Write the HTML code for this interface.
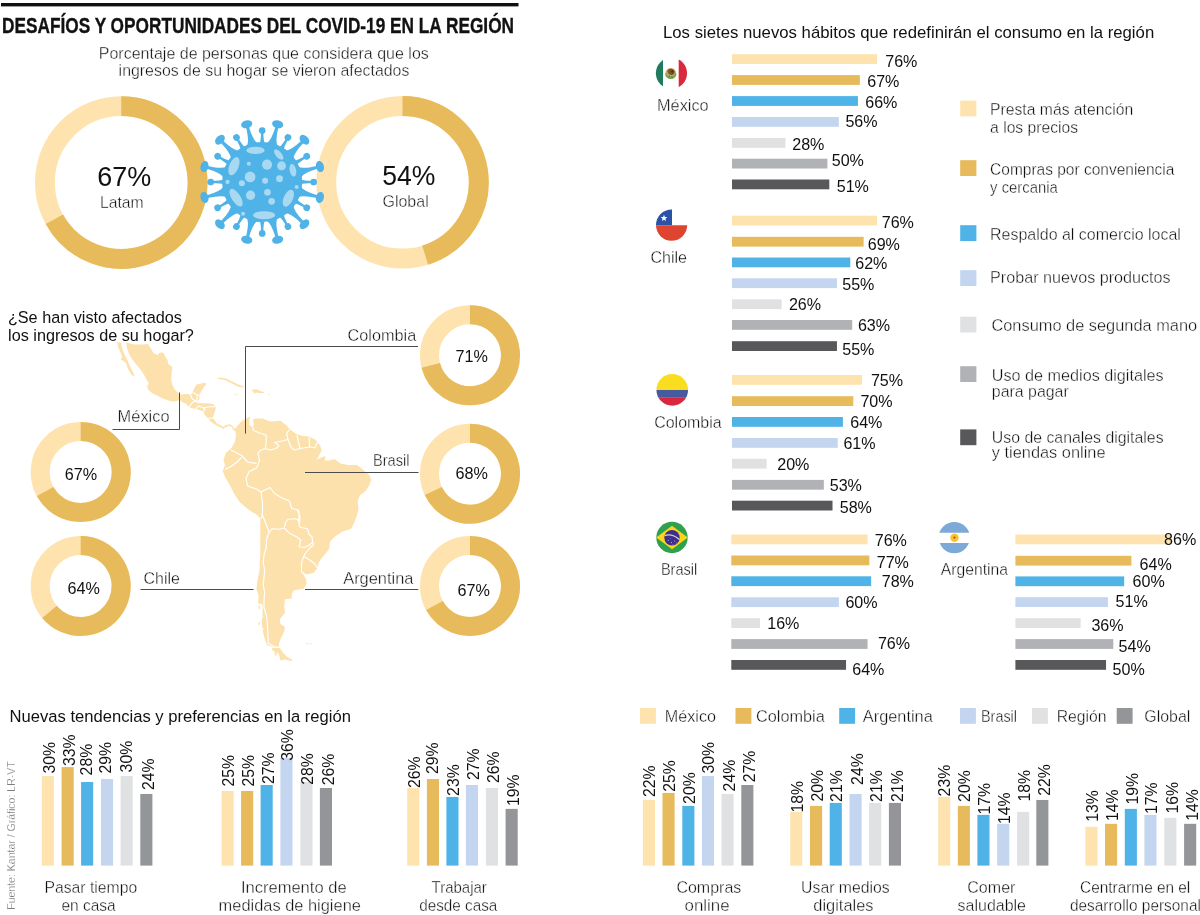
<!DOCTYPE html>
<html lang="es"><head><meta charset="utf-8"><title>Desafíos y oportunidades del COVID-19 en la región</title>
<style>
html,body{margin:0;padding:0;background:#fff}
body{width:1200px;height:915px;overflow:hidden}
svg{display:block}
text{font-family:"Liberation Sans",Arial,Helvetica,sans-serif}
</style></head><body>
<svg width="1200" height="915" viewBox="0 0 1200 915">
<rect width="1200" height="915" fill="#fff"/>
<rect x="1.00" y="3.00" width="517.50" height="3.40" fill="#111"/>
<text x="2.0" y="32.6" font-size="21.6" fill="#111" textLength="512.0" lengthAdjust="spacingAndGlyphs" font-weight="bold" stroke="#111" stroke-width="0.35">DESAFÍOS Y OPORTUNIDADES DEL COVID-19 EN LA REGIÓN</text>
<text x="98.8" y="58.9" font-size="16.8" fill="#0d0d0d" textLength="330.0" lengthAdjust="spacingAndGlyphs" stroke="#fff" stroke-width="0.38">Porcentaje de personas que considera que los</text>
<text x="118.6" y="76.3" font-size="16.8" fill="#0d0d0d" textLength="290.8" lengthAdjust="spacingAndGlyphs" stroke="#fff" stroke-width="0.38">ingresos de su hogar se vieron afectados</text>
<circle cx="121.25" cy="182.5" r="76.325" fill="none" stroke="#FEE3AF" stroke-width="19.849999999999994"/>
<path d="M121.25 106.175A76.325 76.325 0 1 1 54.37 219.27" fill="none" stroke="#E7BA5B" stroke-width="19.849999999999994"/>
<circle cx="402.5" cy="182.3" r="76.275" fill="none" stroke="#FEE3AF" stroke-width="19.950000000000003"/>
<path d="M402.5 106.025A76.275 76.275 0 0 1 425.16 255.13" fill="none" stroke="#E7BA5B" stroke-width="19.950000000000003"/>
<text x="97.3" y="186.3" font-size="27.2" fill="#111" textLength="54.0" lengthAdjust="spacingAndGlyphs">67%</text>
<text x="100.0" y="208.0" font-size="16.4" fill="#0d0d0d" textLength="43.7" lengthAdjust="spacingAndGlyphs" stroke="#fff" stroke-width="0.38">Latam</text>
<text x="382.3" y="185.2" font-size="27.2" fill="#111" textLength="53.2" lengthAdjust="spacingAndGlyphs">54%</text>
<text x="382.5" y="206.6" font-size="16.4" fill="#0d0d0d" textLength="46.2" lengthAdjust="spacingAndGlyphs" stroke="#fff" stroke-width="0.38">Global</text>
<g transform="translate(262.2,182.0) scale(1.013)">
<g fill="#4FB3E7" stroke="none">
<circle r="39.6"/>
<g transform="rotate(15)"><path d="M-5.6 -38Q-1.9 -41.5 -1.45 -56L1.45 -56Q1.9 -41.5 5.6 -38Z"/><ellipse cx="0" cy="-59" rx="5.6" ry="3.9"/></g>
<g transform="rotate(45)"><path d="M-5.6 -38Q-1.9 -41.5 -1.45 -56L1.45 -56Q1.9 -41.5 5.6 -38Z"/><ellipse cx="0" cy="-59" rx="5.6" ry="3.9"/></g>
<g transform="rotate(75)"><path d="M-5.6 -38Q-1.9 -41.5 -1.45 -56L1.45 -56Q1.9 -41.5 5.6 -38Z"/><ellipse cx="0" cy="-59" rx="5.6" ry="3.9"/></g>
<g transform="rotate(105)"><path d="M-5.6 -38Q-1.9 -41.5 -1.45 -56L1.45 -56Q1.9 -41.5 5.6 -38Z"/><ellipse cx="0" cy="-59" rx="5.6" ry="3.9"/></g>
<g transform="rotate(135)"><path d="M-5.6 -38Q-1.9 -41.5 -1.45 -56L1.45 -56Q1.9 -41.5 5.6 -38Z"/><ellipse cx="0" cy="-59" rx="5.6" ry="3.9"/></g>
<g transform="rotate(165)"><path d="M-5.6 -38Q-1.9 -41.5 -1.45 -56L1.45 -56Q1.9 -41.5 5.6 -38Z"/><ellipse cx="0" cy="-59" rx="5.6" ry="3.9"/></g>
<g transform="rotate(195)"><path d="M-5.6 -38Q-1.9 -41.5 -1.45 -56L1.45 -56Q1.9 -41.5 5.6 -38Z"/><ellipse cx="0" cy="-59" rx="5.6" ry="3.9"/></g>
<g transform="rotate(225)"><path d="M-5.6 -38Q-1.9 -41.5 -1.45 -56L1.45 -56Q1.9 -41.5 5.6 -38Z"/><ellipse cx="0" cy="-59" rx="5.6" ry="3.9"/></g>
<g transform="rotate(255)"><path d="M-5.6 -38Q-1.9 -41.5 -1.45 -56L1.45 -56Q1.9 -41.5 5.6 -38Z"/><ellipse cx="0" cy="-59" rx="5.6" ry="3.9"/></g>
<g transform="rotate(285)"><path d="M-5.6 -38Q-1.9 -41.5 -1.45 -56L1.45 -56Q1.9 -41.5 5.6 -38Z"/><ellipse cx="0" cy="-59" rx="5.6" ry="3.9"/></g>
<g transform="rotate(315)"><path d="M-5.6 -38Q-1.9 -41.5 -1.45 -56L1.45 -56Q1.9 -41.5 5.6 -38Z"/><ellipse cx="0" cy="-59" rx="5.6" ry="3.9"/></g>
<g transform="rotate(345)"><path d="M-5.6 -38Q-1.9 -41.5 -1.45 -56L1.45 -56Q1.9 -41.5 5.6 -38Z"/><ellipse cx="0" cy="-59" rx="5.6" ry="3.9"/></g>
<g transform="rotate(0)"><path d="M-2.6 -38Q-1.1 -41 -1.1 -50L1.1 -50Q1.1 -41 2.6 -38Z"/><circle cx="0" cy="-50.8" r="3.3"/></g>
<g transform="rotate(30)"><path d="M-2.6 -38Q-1.1 -41 -1.1 -50L1.1 -50Q1.1 -41 2.6 -38Z"/><circle cx="0" cy="-50.8" r="3.3"/></g>
<g transform="rotate(60)"><path d="M-2.6 -38Q-1.1 -41 -1.1 -50L1.1 -50Q1.1 -41 2.6 -38Z"/><circle cx="0" cy="-50.8" r="3.3"/></g>
<g transform="rotate(90)"><path d="M-2.6 -38Q-1.1 -41 -1.1 -50L1.1 -50Q1.1 -41 2.6 -38Z"/><circle cx="0" cy="-50.8" r="3.3"/></g>
<g transform="rotate(120)"><path d="M-2.6 -38Q-1.1 -41 -1.1 -50L1.1 -50Q1.1 -41 2.6 -38Z"/><circle cx="0" cy="-50.8" r="3.3"/></g>
<g transform="rotate(150)"><path d="M-2.6 -38Q-1.1 -41 -1.1 -50L1.1 -50Q1.1 -41 2.6 -38Z"/><circle cx="0" cy="-50.8" r="3.3"/></g>
<g transform="rotate(180)"><path d="M-2.6 -38Q-1.1 -41 -1.1 -50L1.1 -50Q1.1 -41 2.6 -38Z"/><circle cx="0" cy="-50.8" r="3.3"/></g>
<g transform="rotate(210)"><path d="M-2.6 -38Q-1.1 -41 -1.1 -50L1.1 -50Q1.1 -41 2.6 -38Z"/><circle cx="0" cy="-50.8" r="3.3"/></g>
<g transform="rotate(240)"><path d="M-2.6 -38Q-1.1 -41 -1.1 -50L1.1 -50Q1.1 -41 2.6 -38Z"/><circle cx="0" cy="-50.8" r="3.3"/></g>
<g transform="rotate(270)"><path d="M-2.6 -38Q-1.1 -41 -1.1 -50L1.1 -50Q1.1 -41 2.6 -38Z"/><circle cx="0" cy="-50.8" r="3.3"/></g>
<g transform="rotate(300)"><path d="M-2.6 -38Q-1.1 -41 -1.1 -50L1.1 -50Q1.1 -41 2.6 -38Z"/><circle cx="0" cy="-50.8" r="3.3"/></g>
<g transform="rotate(330)"><path d="M-2.6 -38Q-1.1 -41 -1.1 -50L1.1 -50Q1.1 -41 2.6 -38Z"/><circle cx="0" cy="-50.8" r="3.3"/></g>
</g>
<g fill="#A9D8F3">
<ellipse cx="-6.6" cy="-31.2" rx="9" ry="3.6" transform="rotate(0 -6.6 -31.2)"/>
<ellipse cx="16.3" cy="-27.1" rx="6.3" ry="2.9" transform="rotate(50 16.3 -27.1)"/>
<ellipse cx="-27.9" cy="-15.6" rx="4.6" ry="9.5" transform="rotate(22 -27.9 -15.6)"/>
<ellipse cx="30.3" cy="-11.5" rx="3.2" ry="6.3" transform="rotate(-12 30.3 -11.5)"/>
<ellipse cx="4.8" cy="-17.2" rx="5" ry="5" transform="rotate(0 4.8 -17.2)"/>
<ellipse cx="19.1" cy="-16.0" rx="4.4" ry="4.4" transform="rotate(0 19.1 -16.0)"/>
<ellipse cx="-13.2" cy="-18.0" rx="2" ry="2" transform="rotate(0 -13.2 -18.0)"/>
<ellipse cx="-11.9" cy="-5.0" rx="5.3" ry="5.3" transform="rotate(0 -11.9 -5.0)"/>
<ellipse cx="-20.1" cy="1.3" rx="3" ry="3" transform="rotate(0 -20.1 1.3)"/>
<ellipse cx="-34.2" cy="0.0" rx="2.1" ry="2.1" transform="rotate(0 -34.2 0.0)"/>
<ellipse cx="2.9" cy="-1.3" rx="3" ry="3" transform="rotate(0 2.9 -1.3)"/>
<ellipse cx="17.1" cy="-3.3" rx="3.4" ry="3.4" transform="rotate(0 17.1 -3.3)"/>
<ellipse cx="34.0" cy="4.9" rx="2" ry="2" transform="rotate(0 34.0 4.9)"/>
<ellipse cx="-11.5" cy="13.1" rx="4.6" ry="4.6" transform="rotate(0 -11.5 13.1)"/>
<ellipse cx="5.2" cy="10.1" rx="3.3" ry="3.3" transform="rotate(0 5.2 10.1)"/>
<ellipse cx="9.3" cy="19.1" rx="3.3" ry="3.3" transform="rotate(0 9.3 19.1)"/>
<ellipse cx="-25.8" cy="15.5" rx="4.3" ry="10" transform="rotate(-33 -25.8 15.5)"/>
<ellipse cx="25.8" cy="16.0" rx="4.5" ry="9" transform="rotate(25 25.8 16.0)"/>
<ellipse cx="1.9" cy="32.8" rx="11" ry="4" transform="rotate(0 1.9 32.8)"/>
<ellipse cx="-18.9" cy="31.4" rx="2" ry="2" transform="rotate(0 -18.9 31.4)"/>
</g></g>
<text x="7.9" y="322.6" font-size="16.8" fill="#111" textLength="174.0" lengthAdjust="spacingAndGlyphs">¿Se han visto afectados</text>
<text x="8.1" y="340.6" font-size="16.8" fill="#111" textLength="185.8" lengthAdjust="spacingAndGlyphs">los ingresos de su hogar?</text>
<g fill="#FDE1AC" stroke="none">
<path d="M117.1 342.1 121.2 342.7 121.9 347.5 123.3 351.7 125.5 356.5 127.7 360.7 129.7 365.7 131.7 369.8 134.0 374.2 134.0 376.0 131.7 375.2 129.6 371.8 127.5 368.3 126.5 364.2 123.8 361.0 120.7 359.7 122.2 356.8 120.2 351.7 118.2 347.5Z"/>
<path d="M126.2 342.5 134.2 344.6 143.3 344.6 147.5 343.8 150.8 348.3 153.3 352.9 157.5 355.0 160.0 352.5 163.3 352.5 165.4 357.1 167.5 360.0 168.3 364.2 172.5 367.1 171.7 372.5 171.2 379.2 172.1 384.2 174.6 389.2 178.3 392.9 180.8 394.6 182.5 394.6 186.7 393.8 190.8 395.0 192.5 392.5 195.0 386.7 196.7 384.6 203.3 382.9 206.7 383.3 204.2 386.7 202.1 390.0 200.8 392.5 199.2 395.0 199.6 399.2 198.3 400.0 198.3 402.9 203.3 403.3 209.2 403.3 213.3 404.2 215.8 406.7 215.4 410.0 214.2 413.3 213.3 416.7 212.5 417.9 215.0 420.8 216.7 423.3 220.0 425.0 223.3 426.7 225.8 425.0 230.0 424.2 232.5 425.8 234.2 428.8 236.7 427.5 235.8 431.2 233.3 430.2 231.7 426.8 228.3 426.0 225.2 427.7 224.2 429.8 221.7 428.1 217.5 426.0 213.3 423.5 210.0 421.0 208.3 418.5 205.0 415.2 203.3 411.8 200.0 410.2 195.8 408.9 191.7 408.1 188.8 406.8 186.7 404.3 182.5 402.2 179.6 399.8 177.5 400.8 173.3 401.7 168.3 400.4 163.3 398.8 157.5 395.8 152.5 393.3 148.3 390.0 147.1 386.7 148.8 383.3 146.7 380.0 144.2 375.0 140.8 370.0 137.3 365.8 134.7 362.5 131.0 357.5 128.4 352.5 126.8 347.5Z"/>
<path d="M216.2 378.3 221.7 377.5 226.7 378.8 231.7 381.2 236.7 383.8 240.8 385.4 243.8 386.2 243.3 387.5 239.2 387.1 235.0 385.0 230.0 382.5 225.0 380.0 220.0 379.2Z"/>
<path d="M234.2 394.0 237.9 394.2 237.5 394.8 234.6 394.8Z"/>
<path d="M252.1 389.6 256.7 389.2 260.8 391.2 264.2 392.1 263.8 392.9 259.2 392.9 255.8 392.5 254.6 394.2 253.3 391.7 252.1 390.8Z"/>
<path d="M267.9 394.2 270.0 394.2 270.0 394.8 267.9 394.8Z"/>
<path d="M272.2 648.0 279.7 648.0 282.9 652.5 287.2 657.0 292.8 660.0 291.0 661.0 285.0 659.5 280.5 660.6 279.3 655.8 277.5 651.7 276.0 655.8 274.8 655.8 274.5 651.0 272.2 650.4Z"/>
<path d="M234.7 429.7 237.7 425.2 242.2 420.7 246.7 418.2 250.5 416.4 249.3 420.0 249.7 425.2 252.7 427.5 253.8 423.7 252.7 420.0 255.0 418.5 262.5 418.5 270.0 421.5 280.5 420.7 286.5 425.2 289.5 429.0 295.5 433.5 301.5 435.7 309.0 436.5 315.0 439.5 320.2 445.5 321.7 450.7 318.7 456.0 316.5 459.7 321.0 457.5 325.5 456.0 324.7 460.5 328.5 460.5 334.5 459.0 340.5 463.5 348.0 465.0 357.0 465.0 363.0 469.5 369.7 475.5 371.2 480.0 369.0 486.0 364.5 492.0 360.0 495.0 357.7 501.0 358.5 510.0 356.2 517.5 356.2 517.5 353.2 525.0 351.0 528.7 342.0 531.7 334.5 537.0 330.0 541.5 329.2 549.0 325.5 553.5 321.7 558.0 318.7 562.5 317.2 568.5 313.5 573.0 306.0 574.5 302.2 572.2 306.0 579.0 306.7 583.5 303.7 588.7 294.0 590.2 291.7 594.0 291.7 598.5 285.0 599.2 284.2 606.0 285.0 613.5 284.2 613.5 279.7 619.5 280.5 624.0 285.0 627.0 284.2 631.5 281.2 637.5 279.0 643.5 279.0 646.5 271.5 646.5 267.0 645.0 264.7 639.0 262.5 630.0 261.7 622.5 262.5 615.0 262.5 604.5 258.0 603.0 258.7 595.5 256.5 589.5 257.2 582.0 259.5 570.0 260.2 555.0 260.2 540.0 260.2 525.0 260.2 516.0 261.0 510.0 261.0 519.0 256.5 514.5 249.0 510.0 240.0 502.5 234.0 493.5 229.5 484.5 225.0 477.0 222.7 471.0 225.0 465.0 223.5 460.5 225.7 453.0 231.0 448.5 234.7 442.5 236.2 435.0Z"/>
<path d="M258.3 606.0 259.8 605.4 260.1 609.0 258.9 609.6Z"/>
<path d="M258.3 622.5 259.8 622.2 260.1 624.7 258.6 624.9Z"/>
<path d="M266.7 642.7 269.4 642.7 269.4 645.0 267.0 645.0Z"/>
<g opacity=".55"><path d="M306.0 642.9 308.2 642.6 308.4 644.4 306.3 644.5Z"/><path d="M309.3 642.9 311.7 642.7 311.7 644.4 309.6 644.5Z"/></g>
</g>
<g fill="none" stroke="#fff" stroke-width="0.9" stroke-linecap="round">
<path d="M261.9 616.2 263.1 616.8"/>
<path d="M262.0 629.4 263.4 628.8"/>
</g>
<g fill="none" stroke="#fff" stroke-width="1.15" stroke-linejoin="round">
<path d="M252.7 427.5 253.5 430.5 261.0 433.5 266.2 435.0 266.2 441.0 265.5 448.5 261.0 450.0 258.0 453.0 259.5 460.5 258.0 465.0 256.5 468.0 249.0 471.7 246.0 478.5 247.5 486.0 256.5 489.0 261.0 492.0 262.5 502.5 262.5 514.5 261.0 519.0"/>
<path d="M231.0 450.0 237.0 453.0 242.2 456.0 247.5 462.0 256.5 463.5"/>
<path d="M225.0 469.5 231.0 466.5 237.0 462.0 241.5 457.5"/>
<path d="M261.0 492.0 270.0 487.5 274.5 493.5 282.0 498.0 289.5 501.0 291.7 508.5 298.5 510.0 300.0 517.5 299.2 525.7"/>
<path d="M265.5 448.5 270.0 450.0 276.0 448.5 279.0 445.5 274.5 442.5 282.0 441.0 288.0 439.5 286.5 433.5 289.5 429.7"/>
<path d="M288.0 439.5 291.0 447.0 294.0 450.0 300.0 448.5 309.7 447.0 315.0 447.7 317.2 442.5"/>
<path d="M297.0 435.0 298.5 442.5 300.0 448.5"/>
<path d="M309.0 437.2 309.7 447.0"/>
<path d="M261.7 513.0 264.0 519.0 267.0 526.5 269.2 532.5 266.7 538.5 266.2 547.5 264.0 555.0 263.2 562.5 264.7 570.0 264.0 577.5 263.2 585.0 264.7 592.5 264.0 600.0 264.0 607.5 266.2 615.0"/>
<path d="M266.4 615.0 267.4 624.0 267.9 633.0 268.3 643.5 276.0 647.2"/>
<path d="M269.2 532.5 272.2 528.7 279.0 529.2 284.2 528.0 285.7 522.0 288.0 519.3 295.5 518.7 298.5 520.5 299.2 514.5 297.0 510.0"/>
<path d="M298.5 520.5 300.0 527.2 307.5 528.7 309.0 534.0 312.0 537.0 312.7 542.2 313.5 544.5 309.0 549.0 305.2 553.5 303.7 556.5 309.0 559.5 315.0 564.0 317.2 567.7"/>
<path d="M284.2 528.0 289.5 533.2 297.0 537.0 300.7 540.0 299.2 546.7 304.5 547.5 309.0 545.2 312.7 542.2"/>
<path d="M303.7 556.5 301.5 562.5 301.5 571.5 304.5 574.5"/>
<path d="M190.8 395.0 191.8 398.3 195.0 401.0 198.3 400.0"/>
<path d="M188.8 406.8 191.8 403.3 195.0 401.0"/>
<path d="M195.0 401.0 198.3 402.9"/>
<path d="M195.8 408.9 198.8 405.8 203.3 407.9 209.2 406.7 215.8 406.7"/>
<path d="M203.3 411.8 205.0 409.2 203.3 407.9"/>
<path d="M208.3 418.5 212.5 417.9"/>
<path d="M224.2 429.8 224.6 427.5"/>
<path d="M192.5 392.5 197.5 395.0 199.2 395.0"/>
<path d="M197.5 395.0 196.7 399.6"/>
</g>
<g fill="none" stroke="#4a4a4a" stroke-width="1">
<path d="M112.5 429.5H179.5V392.5"/>
<path d="M245.5 433.5V346.5H418"/>
<path d="M305 472.5H418.5"/>
<path d="M140.5 589.5H253.5"/>
<path d="M305 589.5H418.3"/>
</g>
<text x="117.6" y="422.1" font-size="17.1" fill="#0d0d0d" textLength="52.0" lengthAdjust="spacingAndGlyphs" stroke="#fff" stroke-width="0.38">México</text>
<text x="347.6" y="340.6" font-size="17.1" fill="#0d0d0d" textLength="68.6" lengthAdjust="spacingAndGlyphs" stroke="#fff" stroke-width="0.38">Colombia</text>
<text x="373.0" y="466.2" font-size="17.1" fill="#0d0d0d" textLength="36.4" lengthAdjust="spacingAndGlyphs" stroke="#fff" stroke-width="0.38">Brasil</text>
<text x="143.5" y="584.3" font-size="17.1" fill="#0d0d0d" textLength="36.4" lengthAdjust="spacingAndGlyphs" stroke="#fff" stroke-width="0.38">Chile</text>
<text x="343.2" y="584.0" font-size="17.1" fill="#0d0d0d" textLength="70.3" lengthAdjust="spacingAndGlyphs" stroke="#fff" stroke-width="0.38">Argentina</text>
<circle cx="80.7" cy="472" r="40.5" fill="none" stroke="#FEE3AF" stroke-width="19"/>
<path d="M80.7 431.5A40.5 40.5 0 1 1 45.21 491.51" fill="none" stroke="#E7BA5B" stroke-width="19"/>
<text x="64.8" y="480.3" font-size="16.8" fill="#111" textLength="32.4" lengthAdjust="spacingAndGlyphs">67%</text>
<circle cx="80.7" cy="586" r="40.5" fill="none" stroke="#FEE3AF" stroke-width="19"/>
<path d="M80.7 545.5A40.5 40.5 0 1 1 49.49 611.82" fill="none" stroke="#E7BA5B" stroke-width="19"/>
<text x="67.5" y="593.7" font-size="16.8" fill="#111" textLength="32.4" lengthAdjust="spacingAndGlyphs">64%</text>
<circle cx="470" cy="355.3" r="40.5" fill="none" stroke="#FEE3AF" stroke-width="19"/>
<path d="M470 314.8A40.5 40.5 0 1 1 430.77 365.37" fill="none" stroke="#E7BA5B" stroke-width="19"/>
<text x="455.5" y="361.7" font-size="16.8" fill="#111" textLength="32.4" lengthAdjust="spacingAndGlyphs">71%</text>
<circle cx="470" cy="473.7" r="40.5" fill="none" stroke="#FEE3AF" stroke-width="19"/>
<path d="M470 433.2A40.5 40.5 0 1 1 433.35 490.94" fill="none" stroke="#E7BA5B" stroke-width="19"/>
<text x="455.5" y="479.2" font-size="16.8" fill="#111" textLength="32.4" lengthAdjust="spacingAndGlyphs">68%</text>
<circle cx="470" cy="586" r="40.5" fill="none" stroke="#FEE3AF" stroke-width="19"/>
<path d="M470 545.5A40.5 40.5 0 1 1 434.51 605.51" fill="none" stroke="#E7BA5B" stroke-width="19"/>
<text x="457.5" y="595.8" font-size="16.8" fill="#111" textLength="32.4" lengthAdjust="spacingAndGlyphs">67%</text>
<text x="663.0" y="38.2" font-size="16.2" fill="#111" textLength="491.2" lengthAdjust="spacingAndGlyphs">Los sietes nuevos hábitos que redefinirán el consumo en la región</text>
<rect x="732.00" y="54.20" width="145.01" height="9.80" fill="#FEE3AF"/>
<rect x="732.00" y="75.10" width="127.84" height="9.80" fill="#E7BA5B"/>
<rect x="732.00" y="96.10" width="125.93" height="9.80" fill="#4FB3E7"/>
<rect x="732.00" y="117.00" width="106.85" height="9.80" fill="#C4D5EF"/>
<rect x="732.00" y="138.00" width="53.42" height="9.80" fill="#E0E1E2"/>
<rect x="732.00" y="158.70" width="95.40" height="9.80" fill="#B1B2B5"/>
<rect x="732.00" y="179.50" width="97.31" height="9.80" fill="#58585B"/>
<text x="885.2" y="67.0" font-size="17" fill="#111" textLength="32.2" lengthAdjust="spacingAndGlyphs">76%</text>
<text x="867.2" y="86.6" font-size="17" fill="#111" textLength="32.2" lengthAdjust="spacingAndGlyphs">67%</text>
<text x="865.2" y="107.8" font-size="17" fill="#111" textLength="32.2" lengthAdjust="spacingAndGlyphs">66%</text>
<text x="845.4" y="127.0" font-size="17" fill="#111" textLength="32.2" lengthAdjust="spacingAndGlyphs">56%</text>
<text x="792.2" y="150.0" font-size="17" fill="#111" textLength="32.2" lengthAdjust="spacingAndGlyphs">28%</text>
<text x="831.7" y="166.3" font-size="17" fill="#111" textLength="32.2" lengthAdjust="spacingAndGlyphs">50%</text>
<text x="836.7" y="191.5" font-size="17" fill="#111" textLength="32.2" lengthAdjust="spacingAndGlyphs">51%</text>
<rect x="732.00" y="215.70" width="145.01" height="9.80" fill="#FEE3AF"/>
<rect x="732.00" y="236.80" width="131.65" height="9.80" fill="#E7BA5B"/>
<rect x="732.00" y="257.50" width="118.30" height="9.80" fill="#4FB3E7"/>
<rect x="732.00" y="278.30" width="104.94" height="9.80" fill="#C4D5EF"/>
<rect x="732.00" y="299.30" width="49.61" height="9.80" fill="#E0E1E2"/>
<rect x="732.00" y="320.00" width="120.20" height="9.80" fill="#B1B2B5"/>
<rect x="732.00" y="341.20" width="104.94" height="9.80" fill="#58585B"/>
<text x="881.7" y="227.5" font-size="17" fill="#111" textLength="32.2" lengthAdjust="spacingAndGlyphs">76%</text>
<text x="867.7" y="250.3" font-size="17" fill="#111" textLength="32.2" lengthAdjust="spacingAndGlyphs">69%</text>
<text x="855.2" y="269.0" font-size="17" fill="#111" textLength="32.2" lengthAdjust="spacingAndGlyphs">62%</text>
<text x="842.2" y="290.0" font-size="17" fill="#111" textLength="32.2" lengthAdjust="spacingAndGlyphs">55%</text>
<text x="788.9" y="309.5" font-size="17" fill="#111" textLength="32.2" lengthAdjust="spacingAndGlyphs">26%</text>
<text x="857.9" y="330.8" font-size="17" fill="#111" textLength="32.2" lengthAdjust="spacingAndGlyphs">63%</text>
<text x="842.2" y="354.5" font-size="17" fill="#111" textLength="32.2" lengthAdjust="spacingAndGlyphs">55%</text>
<rect x="732.00" y="375.00" width="129.97" height="9.80" fill="#FEE3AF"/>
<rect x="732.00" y="396.20" width="121.31" height="9.80" fill="#E7BA5B"/>
<rect x="732.00" y="417.00" width="110.91" height="9.80" fill="#4FB3E7"/>
<rect x="732.00" y="438.00" width="105.71" height="9.80" fill="#C4D5EF"/>
<rect x="732.00" y="458.80" width="34.66" height="9.80" fill="#E0E1E2"/>
<rect x="732.00" y="479.90" width="91.85" height="9.80" fill="#B1B2B5"/>
<rect x="732.00" y="500.70" width="100.51" height="9.80" fill="#58585B"/>
<text x="870.9" y="385.8" font-size="17" fill="#111" textLength="32.2" lengthAdjust="spacingAndGlyphs">75%</text>
<text x="860.4" y="406.5" font-size="17" fill="#111" textLength="32.2" lengthAdjust="spacingAndGlyphs">70%</text>
<text x="850.2" y="428.3" font-size="17" fill="#111" textLength="32.2" lengthAdjust="spacingAndGlyphs">64%</text>
<text x="843.4" y="449.0" font-size="17" fill="#111" textLength="32.2" lengthAdjust="spacingAndGlyphs">61%</text>
<text x="777.2" y="469.5" font-size="17" fill="#111" textLength="32.2" lengthAdjust="spacingAndGlyphs">20%</text>
<text x="829.7" y="490.8" font-size="17" fill="#111" textLength="32.2" lengthAdjust="spacingAndGlyphs">53%</text>
<text x="839.7" y="512.5" font-size="17" fill="#111" textLength="32.2" lengthAdjust="spacingAndGlyphs">58%</text>
<rect x="731.30" y="534.50" width="136.27" height="9.80" fill="#FEE3AF"/>
<rect x="731.30" y="555.50" width="138.06" height="9.80" fill="#E7BA5B"/>
<rect x="731.30" y="576.30" width="139.85" height="9.80" fill="#4FB3E7"/>
<rect x="731.30" y="597.30" width="107.58" height="9.80" fill="#C4D5EF"/>
<rect x="731.30" y="618.20" width="28.69" height="9.80" fill="#E0E1E2"/>
<rect x="731.30" y="639.10" width="136.27" height="9.80" fill="#B1B2B5"/>
<rect x="731.30" y="660.00" width="114.75" height="9.80" fill="#58585B"/>
<text x="874.7" y="545.8" font-size="17" fill="#111" textLength="32.2" lengthAdjust="spacingAndGlyphs">76%</text>
<text x="876.7" y="568.3" font-size="17" fill="#111" textLength="32.2" lengthAdjust="spacingAndGlyphs">77%</text>
<text x="881.7" y="586.5" font-size="17" fill="#111" textLength="32.2" lengthAdjust="spacingAndGlyphs">78%</text>
<text x="845.4" y="607.8" font-size="17" fill="#111" textLength="32.2" lengthAdjust="spacingAndGlyphs">60%</text>
<text x="767.2" y="628.8" font-size="17" fill="#111" textLength="32.2" lengthAdjust="spacingAndGlyphs">16%</text>
<text x="877.9" y="648.8" font-size="17" fill="#111" textLength="32.2" lengthAdjust="spacingAndGlyphs">76%</text>
<text x="852.2" y="674.5" font-size="17" fill="#111" textLength="32.2" lengthAdjust="spacingAndGlyphs">64%</text>
<rect x="1015.40" y="534.50" width="155.92" height="9.80" fill="#FEE3AF"/>
<rect x="1015.40" y="555.80" width="116.03" height="9.80" fill="#E7BA5B"/>
<rect x="1015.40" y="576.40" width="108.78" height="9.80" fill="#4FB3E7"/>
<rect x="1015.40" y="597.20" width="92.46" height="9.80" fill="#C4D5EF"/>
<rect x="1015.40" y="618.20" width="65.27" height="9.80" fill="#E0E1E2"/>
<rect x="1015.40" y="639.10" width="97.90" height="9.80" fill="#B1B2B5"/>
<rect x="1015.40" y="660.00" width="90.65" height="9.80" fill="#58585B"/>
<text x="1164.0" y="544.8" font-size="17" fill="#111" textLength="32.2" lengthAdjust="spacingAndGlyphs">86%</text>
<text x="1139.5" y="570.3" font-size="17" fill="#111" textLength="32.2" lengthAdjust="spacingAndGlyphs">64%</text>
<text x="1132.5" y="587.2" font-size="17" fill="#111" textLength="32.2" lengthAdjust="spacingAndGlyphs">60%</text>
<text x="1115.6" y="607.0" font-size="17" fill="#111" textLength="32.2" lengthAdjust="spacingAndGlyphs">51%</text>
<text x="1091.4" y="630.9" font-size="17" fill="#111" textLength="32.2" lengthAdjust="spacingAndGlyphs">36%</text>
<text x="1118.5" y="652.1" font-size="17" fill="#111" textLength="32.2" lengthAdjust="spacingAndGlyphs">54%</text>
<text x="1112.6" y="674.7" font-size="17" fill="#111" textLength="32.2" lengthAdjust="spacingAndGlyphs">50%</text>
<text x="657.0" y="110.7" font-size="17.2" fill="#0d0d0d" textLength="51.7" lengthAdjust="spacingAndGlyphs" stroke="#fff" stroke-width="0.38">México</text>
<text x="650.4" y="262.8" font-size="17.2" fill="#0d0d0d" textLength="36.6" lengthAdjust="spacingAndGlyphs" stroke="#fff" stroke-width="0.38">Chile</text>
<text x="654.2" y="427.8" font-size="17.2" fill="#0d0d0d" textLength="67.4" lengthAdjust="spacingAndGlyphs" stroke="#fff" stroke-width="0.38">Colombia</text>
<text x="660.9" y="574.8" font-size="17.2" fill="#0d0d0d" textLength="36.4" lengthAdjust="spacingAndGlyphs" stroke="#fff" stroke-width="0.38">Brasil</text>
<text x="940.8" y="575.3" font-size="17.2" fill="#0d0d0d" textLength="67.2" lengthAdjust="spacingAndGlyphs" stroke="#fff" stroke-width="0.38">Argentina</text>
<defs>
<clipPath id="fc0"><circle cx="671.45" cy="73.25" r="15.6"/></clipPath>
<clipPath id="fc1"><circle cx="671.6" cy="225.1" r="15.6"/></clipPath>
<clipPath id="fc2"><circle cx="672.25" cy="389.9" r="15.8"/></clipPath>
<clipPath id="fc3"><circle cx="672" cy="537.5" r="15.7"/></clipPath>
<clipPath id="fc4"><circle cx="954.3" cy="537.6" r="15.6"/></clipPath>
</defs>
<g clip-path="url(#fc0)"><rect x="655" y="57" width="8" height="33" fill="#1F7B5D"/><rect x="678.7" y="57" width="9" height="33" fill="#D9293F"/></g>
<g><circle cx="670.8" cy="73.2" r="5.3" fill="#C2A85A"/><path d="M665.1 73.4a5.7 5.7 0 0 0 11.4 0l-1.5 0a4.2 4.2 0 0 1 -8.4 0z" fill="#7FA23F"/><path d="M667.6 70.2q3-2.6 5.6-.6q2.2 1.8 .9 4.2q-1.2 1.6-3 1.2q-2.7-.6-3.2-2.6q-.4-1.2 -.3-2.2z" fill="#7A5526"/><circle cx="672.3" cy="71.6" r="1.1" fill="#3a2a14"/><circle cx="669.4" cy="76.7" r="1.1" fill="#3E8FA0"/><circle cx="672" cy="77" r=".9" fill="#4a8a5a"/></g>
<g clip-path="url(#fc1)"><rect x="655" y="209" width="17" height="16.3" fill="#2A52A7"/><rect x="655" y="225.25" width="34" height="17" fill="#DF4431"/></g>
<polygon points="664.00,214.70 664.88,216.99 667.33,217.12 665.43,218.66 666.06,221.03 664.00,219.70 661.94,221.03 662.57,218.66 660.67,217.12 663.12,216.99" fill="#fff"/>
<g clip-path="url(#fc2)"><rect x="655" y="373" width="35" height="17" fill="#F9DD1F"/><rect x="655" y="390" width="35" height="7.8" fill="#47599F"/><rect x="655" y="397.8" width="35" height="10" fill="#DA2740"/></g>
<g clip-path="url(#fc3)"><rect x="655" y="521" width="35" height="34" fill="#2FA04E"/><polygon points="656.2,537.6 672,525.7 687.8,537.6 672,549.3" fill="#FDD419"/><circle cx="672" cy="537.7" r="7.7" fill="#3F2E8E"/><path d="M664.6 535.6Q672 533.2 679.4 539.6" stroke="#C9D8C0" stroke-width="1.3" fill="none"/><g fill="#B9B4E0"><circle cx="668.2" cy="540.2" r=".55"/><circle cx="671.5" cy="542.6" r=".55"/><circle cx="674.6" cy="541" r=".55"/><circle cx="670.3" cy="538.6" r=".45"/><circle cx="676.4" cy="543" r=".5"/><circle cx="673" cy="544.3" r=".45"/></g></g>
<g clip-path="url(#fc4)"><rect x="938" y="521" width="33" height="11.75" fill="#7DA9D8"/><rect x="938" y="543" width="33" height="12" fill="#7DA9D8"/></g>
<circle cx="954.5" cy="537.8" r="4.2" fill="#F9C22E"/><circle cx="954.5" cy="537.6" r="1.1" fill="#9A5A16"/>
<rect x="960.20" y="100.60" width="16.20" height="15.80" fill="#FEE3AF"/>
<text x="990.1" y="114.6" font-size="16.7" fill="#0d0d0d" textLength="143.1" lengthAdjust="spacingAndGlyphs" stroke="#fff" stroke-width="0.38">Presta más atención</text>
<text x="990.1" y="133.1" font-size="16.7" fill="#0d0d0d" textLength="87.9" lengthAdjust="spacingAndGlyphs" stroke="#fff" stroke-width="0.38">a los precios</text>
<rect x="960.20" y="160.20" width="16.20" height="15.80" fill="#E7BA5B"/>
<text x="990.1" y="175.3" font-size="16.7" fill="#0d0d0d" textLength="184.3" lengthAdjust="spacingAndGlyphs" stroke="#fff" stroke-width="0.38">Compras por conveniencia</text>
<text x="990.1" y="193.3" font-size="16.7" fill="#0d0d0d" textLength="67.7" lengthAdjust="spacingAndGlyphs" stroke="#fff" stroke-width="0.38">y cercania</text>
<rect x="960.20" y="225.20" width="16.20" height="15.80" fill="#4FB3E7"/>
<text x="990.1" y="239.7" font-size="16.7" fill="#0d0d0d" textLength="190.8" lengthAdjust="spacingAndGlyphs" stroke="#fff" stroke-width="0.38">Respaldo al comercio local</text>
<rect x="960.20" y="270.20" width="16.20" height="15.80" fill="#C4D5EF"/>
<text x="990.1" y="283.0" font-size="16.7" fill="#0d0d0d" textLength="180.6" lengthAdjust="spacingAndGlyphs" stroke="#fff" stroke-width="0.38">Probar nuevos productos</text>
<rect x="960.20" y="316.70" width="16.20" height="15.80" fill="#E0E1E2"/>
<text x="991.4" y="331.2" font-size="16.7" fill="#0d0d0d" textLength="205.8" lengthAdjust="spacingAndGlyphs" stroke="#fff" stroke-width="0.38">Consumo de segunda mano</text>
<rect x="960.20" y="366.20" width="16.20" height="15.80" fill="#B1B2B5"/>
<text x="991.8" y="380.6" font-size="16.7" fill="#0d0d0d" textLength="171.8" lengthAdjust="spacingAndGlyphs" stroke="#fff" stroke-width="0.38">Uso de medios digitales</text>
<text x="991.8" y="396.7" font-size="16.7" fill="#0d0d0d" textLength="76.9" lengthAdjust="spacingAndGlyphs" stroke="#fff" stroke-width="0.38">para pagar</text>
<rect x="960.20" y="429.40" width="16.20" height="15.80" fill="#58585B"/>
<text x="991.8" y="442.7" font-size="16.7" fill="#0d0d0d" textLength="171.8" lengthAdjust="spacingAndGlyphs" stroke="#fff" stroke-width="0.38">Uso de canales digitales</text>
<text x="991.8" y="458.3" font-size="16.7" fill="#0d0d0d" textLength="113.7" lengthAdjust="spacingAndGlyphs" stroke="#fff" stroke-width="0.38">y tiendas online</text>
<text x="9.6" y="721.6" font-size="16.3" fill="#111" textLength="341.3" lengthAdjust="spacingAndGlyphs">Nuevas tendencias y preferencias en la región</text>
<text transform="translate(14.7,909.8) rotate(-90)" font-size="10.8" fill="#444" stroke="#fff" stroke-width="0.35" textLength="148.5" lengthAdjust="spacingAndGlyphs">Fuente: Kantar  / Gráfico: LR-VT</text>
<rect x="41.80" y="776.05" width="12.10" height="89.55" fill="#FEE3AF"/>
<rect x="61.60" y="767.10" width="12.10" height="98.50" fill="#E7BA5B"/>
<rect x="81.10" y="782.02" width="12.10" height="83.58" fill="#4FB3E7"/>
<rect x="101.00" y="779.04" width="12.10" height="86.56" fill="#C4D5EF"/>
<rect x="120.60" y="776.05" width="12.10" height="89.55" fill="#E0E1E2"/>
<rect x="140.30" y="793.96" width="12.10" height="71.64" fill="#939598"/>
<text transform="translate(54.5,773.6) rotate(-90)" font-size="17" fill="#111" textLength="31.6" lengthAdjust="spacingAndGlyphs">30%</text>
<text transform="translate(75.2,766.0) rotate(-90)" font-size="17" fill="#111" textLength="31.6" lengthAdjust="spacingAndGlyphs">33%</text>
<text transform="translate(92.1,775.4) rotate(-90)" font-size="17" fill="#111" textLength="31.6" lengthAdjust="spacingAndGlyphs">28%</text>
<text transform="translate(110.9,773.6) rotate(-90)" font-size="17" fill="#111" textLength="31.6" lengthAdjust="spacingAndGlyphs">29%</text>
<text transform="translate(132.0,772.4) rotate(-90)" font-size="17" fill="#111" textLength="31.6" lengthAdjust="spacingAndGlyphs">30%</text>
<text transform="translate(153.9,790.0) rotate(-90)" font-size="17" fill="#111" textLength="31.6" lengthAdjust="spacingAndGlyphs">24%</text>
<rect x="221.60" y="790.98" width="12.10" height="74.62" fill="#FEE3AF"/>
<rect x="241.10" y="790.98" width="12.10" height="74.62" fill="#E7BA5B"/>
<rect x="260.60" y="785.00" width="12.10" height="80.59" fill="#4FB3E7"/>
<rect x="280.40" y="758.14" width="12.10" height="107.46" fill="#C4D5EF"/>
<rect x="300.40" y="782.02" width="12.10" height="83.58" fill="#E0E1E2"/>
<rect x="319.90" y="787.99" width="12.10" height="77.61" fill="#939598"/>
<text transform="translate(234.0,786.5) rotate(-90)" font-size="17" fill="#111" textLength="31.6" lengthAdjust="spacingAndGlyphs">25%</text>
<text transform="translate(254.0,786.5) rotate(-90)" font-size="17" fill="#111" textLength="31.6" lengthAdjust="spacingAndGlyphs">25%</text>
<text transform="translate(274.0,784.1) rotate(-90)" font-size="17" fill="#111" textLength="31.6" lengthAdjust="spacingAndGlyphs">27%</text>
<text transform="translate(293.3,760.7) rotate(-90)" font-size="17" fill="#111" textLength="31.6" lengthAdjust="spacingAndGlyphs">36%</text>
<text transform="translate(313.3,784.8) rotate(-90)" font-size="17" fill="#111" textLength="31.6" lengthAdjust="spacingAndGlyphs">28%</text>
<text transform="translate(334.0,785.3) rotate(-90)" font-size="17" fill="#111" textLength="31.6" lengthAdjust="spacingAndGlyphs">26%</text>
<rect x="407.20" y="787.99" width="12.10" height="77.61" fill="#FEE3AF"/>
<rect x="426.90" y="779.04" width="12.10" height="86.56" fill="#E7BA5B"/>
<rect x="446.40" y="796.95" width="12.10" height="68.66" fill="#4FB3E7"/>
<rect x="465.90" y="785.00" width="12.10" height="80.59" fill="#C4D5EF"/>
<rect x="485.90" y="787.99" width="12.10" height="77.61" fill="#E0E1E2"/>
<rect x="505.60" y="808.88" width="12.10" height="56.71" fill="#939598"/>
<text transform="translate(420.1,788.1) rotate(-90)" font-size="17" fill="#111" textLength="31.6" lengthAdjust="spacingAndGlyphs">26%</text>
<text transform="translate(438.2,774.0) rotate(-90)" font-size="17" fill="#111" textLength="31.6" lengthAdjust="spacingAndGlyphs">29%</text>
<text transform="translate(458.6,795.9) rotate(-90)" font-size="17" fill="#111" textLength="31.6" lengthAdjust="spacingAndGlyphs">23%</text>
<text transform="translate(478.8,780.1) rotate(-90)" font-size="17" fill="#111" textLength="31.6" lengthAdjust="spacingAndGlyphs">27%</text>
<text transform="translate(499.3,783.0) rotate(-90)" font-size="17" fill="#111" textLength="31.6" lengthAdjust="spacingAndGlyphs">26%</text>
<text transform="translate(519.3,806.0) rotate(-90)" font-size="17" fill="#111" textLength="31.6" lengthAdjust="spacingAndGlyphs">19%</text>
<rect x="642.90" y="799.93" width="12.10" height="65.67" fill="#FEE3AF"/>
<rect x="662.50" y="792.92" width="12.10" height="72.68" fill="#E7BA5B"/>
<rect x="682.30" y="805.90" width="12.10" height="59.70" fill="#4FB3E7"/>
<rect x="701.90" y="776.05" width="12.10" height="89.55" fill="#C4D5EF"/>
<rect x="721.50" y="793.96" width="12.10" height="71.64" fill="#E0E1E2"/>
<rect x="741.30" y="785.00" width="12.10" height="80.59" fill="#939598"/>
<text transform="translate(655.4,797.0) rotate(-90)" font-size="17" fill="#111" textLength="31.6" lengthAdjust="spacingAndGlyphs">22%</text>
<text transform="translate(675.0,791.8) rotate(-90)" font-size="17" fill="#111" textLength="31.6" lengthAdjust="spacingAndGlyphs">25%</text>
<text transform="translate(695.2,803.9) rotate(-90)" font-size="17" fill="#111" textLength="31.6" lengthAdjust="spacingAndGlyphs">20%</text>
<text transform="translate(714.0,773.6) rotate(-90)" font-size="17" fill="#111" textLength="31.6" lengthAdjust="spacingAndGlyphs">30%</text>
<text transform="translate(735.3,791.4) rotate(-90)" font-size="17" fill="#111" textLength="31.6" lengthAdjust="spacingAndGlyphs">24%</text>
<text transform="translate(755.1,782.3) rotate(-90)" font-size="17" fill="#111" textLength="31.6" lengthAdjust="spacingAndGlyphs">27%</text>
<rect x="790.20" y="811.87" width="12.10" height="53.73" fill="#FEE3AF"/>
<rect x="810.00" y="805.90" width="12.10" height="59.70" fill="#E7BA5B"/>
<rect x="829.70" y="802.92" width="12.10" height="62.68" fill="#4FB3E7"/>
<rect x="849.50" y="793.96" width="12.10" height="71.64" fill="#C4D5EF"/>
<rect x="869.10" y="802.92" width="12.10" height="62.68" fill="#E0E1E2"/>
<rect x="888.90" y="802.92" width="12.10" height="62.68" fill="#939598"/>
<text transform="translate(802.8,812.6) rotate(-90)" font-size="17" fill="#111" textLength="31.6" lengthAdjust="spacingAndGlyphs">18%</text>
<text transform="translate(823.0,801.5) rotate(-90)" font-size="17" fill="#111" textLength="31.6" lengthAdjust="spacingAndGlyphs">20%</text>
<text transform="translate(842.4,801.9) rotate(-90)" font-size="17" fill="#111" textLength="31.6" lengthAdjust="spacingAndGlyphs">21%</text>
<text transform="translate(863.0,784.9) rotate(-90)" font-size="17" fill="#111" textLength="31.6" lengthAdjust="spacingAndGlyphs">24%</text>
<text transform="translate(882.2,801.9) rotate(-90)" font-size="17" fill="#111" textLength="31.6" lengthAdjust="spacingAndGlyphs">21%</text>
<text transform="translate(902.9,801.9) rotate(-90)" font-size="17" fill="#111" textLength="31.6" lengthAdjust="spacingAndGlyphs">21%</text>
<rect x="938.20" y="796.95" width="12.10" height="68.66" fill="#FEE3AF"/>
<rect x="957.80" y="805.90" width="12.10" height="59.70" fill="#E7BA5B"/>
<rect x="977.40" y="814.86" width="12.10" height="50.74" fill="#4FB3E7"/>
<rect x="997.20" y="823.81" width="12.10" height="41.79" fill="#C4D5EF"/>
<rect x="1017.10" y="811.87" width="12.10" height="53.73" fill="#E0E1E2"/>
<rect x="1036.30" y="799.93" width="12.10" height="65.67" fill="#939598"/>
<text transform="translate(950.3,796.4) rotate(-90)" font-size="17" fill="#111" textLength="31.6" lengthAdjust="spacingAndGlyphs">23%</text>
<text transform="translate(970.0,801.9) rotate(-90)" font-size="17" fill="#111" textLength="31.6" lengthAdjust="spacingAndGlyphs">20%</text>
<text transform="translate(989.8,814.6) rotate(-90)" font-size="17" fill="#111" textLength="31.6" lengthAdjust="spacingAndGlyphs">17%</text>
<text transform="translate(1010.0,824.1) rotate(-90)" font-size="17" fill="#111" textLength="31.6" lengthAdjust="spacingAndGlyphs">14%</text>
<text transform="translate(1030.2,801.5) rotate(-90)" font-size="17" fill="#111" textLength="31.6" lengthAdjust="spacingAndGlyphs">18%</text>
<text transform="translate(1049.8,795.8) rotate(-90)" font-size="17" fill="#111" textLength="31.6" lengthAdjust="spacingAndGlyphs">22%</text>
<rect x="1085.40" y="826.80" width="12.10" height="38.80" fill="#FEE3AF"/>
<rect x="1105.00" y="823.81" width="12.10" height="41.79" fill="#E7BA5B"/>
<rect x="1124.80" y="808.88" width="12.10" height="56.71" fill="#4FB3E7"/>
<rect x="1144.40" y="814.86" width="12.10" height="50.74" fill="#C4D5EF"/>
<rect x="1164.30" y="817.84" width="12.10" height="47.76" fill="#E0E1E2"/>
<rect x="1184.10" y="823.81" width="12.10" height="41.79" fill="#939598"/>
<text transform="translate(1098.1,821.7) rotate(-90)" font-size="17" fill="#111" textLength="31.6" lengthAdjust="spacingAndGlyphs">13%</text>
<text transform="translate(1117.7,821.1) rotate(-90)" font-size="17" fill="#111" textLength="31.6" lengthAdjust="spacingAndGlyphs">14%</text>
<text transform="translate(1138.0,804.5) rotate(-90)" font-size="17" fill="#111" textLength="31.6" lengthAdjust="spacingAndGlyphs">19%</text>
<text transform="translate(1157.2,814.0) rotate(-90)" font-size="17" fill="#111" textLength="31.6" lengthAdjust="spacingAndGlyphs">17%</text>
<text transform="translate(1177.8,813.6) rotate(-90)" font-size="17" fill="#111" textLength="31.6" lengthAdjust="spacingAndGlyphs">16%</text>
<text transform="translate(1197.6,820.7) rotate(-90)" font-size="17" fill="#111" textLength="31.6" lengthAdjust="spacingAndGlyphs">14%</text>
<text x="44.5" y="892.8" font-size="16.8" fill="#0d0d0d" textLength="92.7" lengthAdjust="spacingAndGlyphs" stroke="#fff" stroke-width="0.38">Pasar tiempo</text>
<text x="61.4" y="910.6" font-size="16.8" fill="#0d0d0d" textLength="54.2" lengthAdjust="spacingAndGlyphs" stroke="#fff" stroke-width="0.38">en casa</text>
<text x="240.9" y="892.8" font-size="16.8" fill="#0d0d0d" textLength="105.7" lengthAdjust="spacingAndGlyphs" stroke="#fff" stroke-width="0.38">Incremento de</text>
<text x="218.6" y="910.6" font-size="16.8" fill="#0d0d0d" textLength="142.3" lengthAdjust="spacingAndGlyphs" stroke="#fff" stroke-width="0.38">medidas de higiene</text>
<text x="431.6" y="892.8" font-size="16.8" fill="#0d0d0d" textLength="55.2" lengthAdjust="spacingAndGlyphs" stroke="#fff" stroke-width="0.38">Trabajar</text>
<text x="419.2" y="910.6" font-size="16.8" fill="#0d0d0d" textLength="78.1" lengthAdjust="spacingAndGlyphs" stroke="#fff" stroke-width="0.38">desde casa</text>
<text x="676.4" y="892.8" font-size="16.8" fill="#0d0d0d" textLength="64.9" lengthAdjust="spacingAndGlyphs" stroke="#fff" stroke-width="0.38">Compras</text>
<text x="684.5" y="910.6" font-size="16.8" fill="#0d0d0d" textLength="45.1" lengthAdjust="spacingAndGlyphs" stroke="#fff" stroke-width="0.38">online</text>
<text x="801.1" y="892.8" font-size="16.8" fill="#0d0d0d" textLength="88.6" lengthAdjust="spacingAndGlyphs" stroke="#fff" stroke-width="0.38">Usar medios</text>
<text x="813.3" y="910.6" font-size="16.8" fill="#0d0d0d" textLength="60.2" lengthAdjust="spacingAndGlyphs" stroke="#fff" stroke-width="0.38">digitales</text>
<text x="967.3" y="892.8" font-size="16.8" fill="#0d0d0d" textLength="48.1" lengthAdjust="spacingAndGlyphs" stroke="#fff" stroke-width="0.38">Comer</text>
<text x="957.6" y="910.6" font-size="16.8" fill="#0d0d0d" textLength="68.4" lengthAdjust="spacingAndGlyphs" stroke="#fff" stroke-width="0.38">saludable</text>
<text x="1080.1" y="892.8" font-size="16.8" fill="#0d0d0d" textLength="110.2" lengthAdjust="spacingAndGlyphs" stroke="#fff" stroke-width="0.38">Centrarme en el</text>
<text x="1070.0" y="910.6" font-size="16.8" fill="#0d0d0d" textLength="130.9" lengthAdjust="spacingAndGlyphs" stroke="#fff" stroke-width="0.38">desarrollo personal</text>
<rect x="640.00" y="708.00" width="15.90" height="15.80" fill="#FEE3AF"/>
<text x="664.8" y="722.0" font-size="16.9" fill="#0d0d0d" textLength="51.2" lengthAdjust="spacingAndGlyphs" stroke="#fff" stroke-width="0.38">México</text>
<rect x="735.50" y="708.00" width="15.90" height="15.80" fill="#E7BA5B"/>
<text x="756.0" y="722.0" font-size="16.9" fill="#0d0d0d" textLength="68.8" lengthAdjust="spacingAndGlyphs" stroke="#fff" stroke-width="0.38">Colombia</text>
<rect x="839.20" y="708.00" width="15.90" height="15.80" fill="#4FB3E7"/>
<text x="862.8" y="722.0" font-size="16.9" fill="#0d0d0d" textLength="70.0" lengthAdjust="spacingAndGlyphs" stroke="#fff" stroke-width="0.38">Argentina</text>
<rect x="960.00" y="708.00" width="15.90" height="15.80" fill="#C4D5EF"/>
<text x="981.0" y="722.0" font-size="16.9" fill="#0d0d0d" textLength="36.0" lengthAdjust="spacingAndGlyphs" stroke="#fff" stroke-width="0.38">Brasil</text>
<rect x="1032.00" y="708.00" width="15.90" height="15.80" fill="#E0E1E2"/>
<text x="1056.8" y="722.0" font-size="16.9" fill="#0d0d0d" textLength="49.7" lengthAdjust="spacingAndGlyphs" stroke="#fff" stroke-width="0.38">Región</text>
<rect x="1116.70" y="708.00" width="15.90" height="15.80" fill="#939598"/>
<text x="1144.3" y="722.0" font-size="16.9" fill="#0d0d0d" textLength="46.0" lengthAdjust="spacingAndGlyphs" stroke="#fff" stroke-width="0.38">Global</text>
</svg></body></html>
